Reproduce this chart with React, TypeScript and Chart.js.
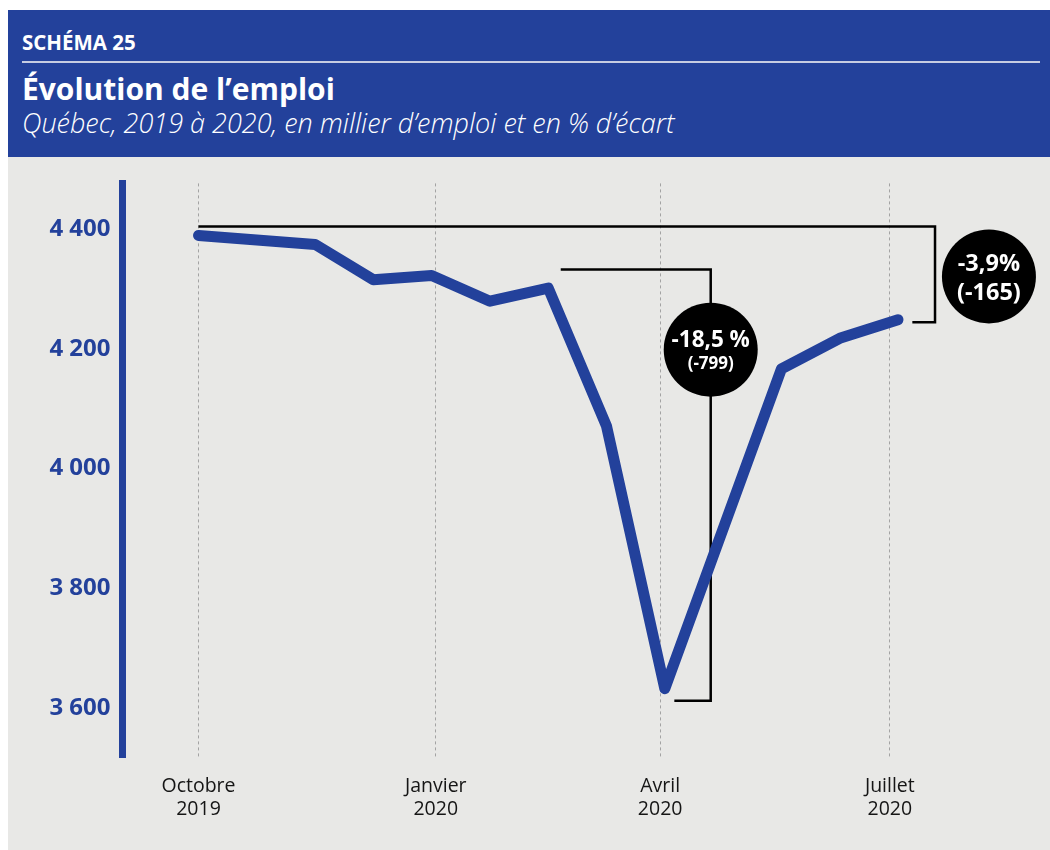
import React, { useEffect, useRef } from "react";
import { Chart, registerables } from "chart.js";

Chart.register(...registerables);

// ---- Data ----
// Point positions along the time axis (0 = Octobre 2019, one unit per plotted step)
const POINT_POS = [0, 2, 3, 4, 5, 6, 7, 8, 10, 11, 12];
// Employment, thousands of jobs
const EMPLOI = [4390, 4375, 4316, 4323, 4280, 4302, 4071, 3632, 4167, 4218, 4249];
// Month tick labels and their positions on the same axis
const MONTH_LABELS = [
  ["Octobre", "2019"],
  ["Janvier", "2020"],
  ["Avril", "2020"],
  ["Juillet", "2020"],
];
const MONTH_TICK_POS = [0, 4.07, 7.92, 11.86];
const Y_TICKS = [3600, 3800, 4000, 4200, 4400];

// Annotation brackets (data units)
const BRACKETS = [
  { x0: 0, x1: 12.635, top: 4405, bottom: 4245, xEnd: 12.246 },
  { x0: 6.214, x1: 8.787, top: 4333, bottom: 3612, xEnd: 8.163 },
];
const BUBBLES = [
  { x: 13.56, y: 4321.5, lines: ["-3,9%", "(-165)"], sizes: [23.5, 23.5], offsets: [-12, 17] },
  { x: 8.787, y: 4199, lines: ["-18,5 %", "(-799)"], sizes: [22.5, 17], offsets: [-9.5, 14.5] },
];

const BLUE = "#23419b";
const GREY_BG = "#e8e8e6";
const FONT = "'Open Sans', Lato, sans-serif";

const annotationPlugin = {
  id: "annotations",
  beforeDatasetsDraw(chart: any) {
    const { ctx } = chart;
    const x = chart.scales.x;
    const y = chart.scales.y;
    ctx.save();
    ctx.strokeStyle = "#000";
    ctx.lineWidth = 2.5;
    ctx.lineJoin = "miter";
    for (const b of BRACKETS) {
      ctx.beginPath();
      ctx.moveTo(x.getPixelForValue(b.x0), y.getPixelForValue(b.top));
      ctx.lineTo(x.getPixelForValue(b.x1), y.getPixelForValue(b.top));
      ctx.lineTo(x.getPixelForValue(b.x1), y.getPixelForValue(b.bottom));
      ctx.lineTo(x.getPixelForValue(b.xEnd), y.getPixelForValue(b.bottom));
      ctx.stroke();
    }
    for (const c of BUBBLES) {
      const cx = x.getPixelForValue(c.x);
      const cy = y.getPixelForValue(c.y);
      ctx.beginPath();
      ctx.arc(cx, cy, 47, 0, Math.PI * 2);
      ctx.fillStyle = "#000";
      ctx.fill();
      ctx.fillStyle = "#fff";
      ctx.textAlign = "center";
      ctx.textBaseline = "middle";
      c.lines.forEach((t, i) => {
        ctx.font = `bold ${c.sizes[i]}px ${FONT}`;
        ctx.fillText(t, cx, cy + c.offsets[i]);
      });
    }
    ctx.restore();
  },
};

export default function App() {
  const canvasRef = useRef<HTMLCanvasElement | null>(null);

  useEffect(() => {
    if (!canvasRef.current) return;
    const chart = new Chart(canvasRef.current, {
      type: "line",
      data: {
        datasets: [
          {
            data: POINT_POS.map((p, i) => ({ x: p, y: EMPLOI[i] })),
            borderColor: BLUE,
            borderWidth: 11,
            borderCapStyle: "round",
            borderJoinStyle: "round",
            pointRadius: 0,
            tension: 0,
            fill: false,
          },
        ],
      },
      options: {
        responsive: false,
        animation: false,
        devicePixelRatio: 1,
        layout: { padding: { top: 24.5, right: 19.5, left: 0, bottom: 0 } },
        plugins: { legend: { display: false }, tooltip: { enabled: false }, title: { display: false } },
        scales: {
          x: {
            type: "linear",
            min: -1.3038,
            max: 14.273,
            afterBuildTicks: (scale: any) => {
              scale.ticks = MONTH_TICK_POS.map((v) => ({ value: v }));
            },
            afterFit: (scale: any) => {
              scale.height = 92.5;
            },
            grid: { display: true, color: "#a3a3a3", lineWidth: 1, drawTicks: false },
            border: { display: false, dash: [3, 3] },
            ticks: {
              padding: 17,
              color: "#151515",
              font: { family: FONT, size: 19.5, lineHeight: 1.18 },
              maxRotation: 0,
              autoSkip: false,
              callback: (v: any) => {
                const i = MONTH_TICK_POS.findIndex((p) => Math.abs(p - Number(v)) < 1e-6);
                return i >= 0 ? MONTH_LABELS[i] : "";
              },
            },
          },
          y: {
            type: "linear",
            min: 3517,
            max: 4477,
            afterBuildTicks: (scale: any) => {
              scale.ticks = Y_TICKS.map((v) => ({ value: v }));
            },
            afterFit: (scale: any) => {
              scale.width = 114.5;
            },
            grid: { display: false, drawTicks: false },
            border: { display: true, color: BLUE, width: 7 },
            ticks: {
              padding: 12,
              color: BLUE,
              font: { family: FONT, size: 24, weight: "bold" },
              callback: (v: any) => {
                const n = Number(v);
                return `${Math.floor(n / 1000)} ${String(n % 1000).padStart(3, "0")}`;
              },
            },
          },
        },
      },
      plugins: [annotationPlugin],
    } as any);
    return () => chart.destroy();
  }, []);

  return (
    <div style={{ position: "absolute", left: 0, top: 0, width: 1050, height: 850, overflow: "hidden", fontFamily: FONT }}>
      <div style={{ position: "absolute", left: 8, top: 10, width: 1042, height: 147, background: BLUE }}>
        <div style={{ position: "absolute", left: 14, top: 21.8, color: "#fff", fontSize: 20.5, lineHeight: "20.5px", fontWeight: 700, whiteSpace: "nowrap" }}>
          SCHÉMA 25
        </div>
        <div style={{ position: "absolute", left: 14, top: 51, width: 1018, height: 2, background: "#c6cce2" }} />
        <div style={{ position: "absolute", left: 14, top: 63.5, color: "#fff", fontSize: 30, lineHeight: "30px", fontWeight: 700, whiteSpace: "nowrap" }}>
          Évolution de l’emploi
        </div>
        <div style={{ position: "absolute", left: 14, top: 99, color: "#fff", fontSize: 27, lineHeight: "27px", fontWeight: 300, fontStyle: "italic", whiteSpace: "nowrap" }}>
          Québec, 2019 à 2020, en millier d’emploi et en % d’écart
        </div>
      </div>
      <div style={{ position: "absolute", left: 8, top: 157, width: 1042, height: 693, background: GREY_BG }}>
        <canvas ref={canvasRef} width={1042} height={693} style={{ display: "block", width: 1042, height: 693 }} />
      </div>
    </div>
  );
}
